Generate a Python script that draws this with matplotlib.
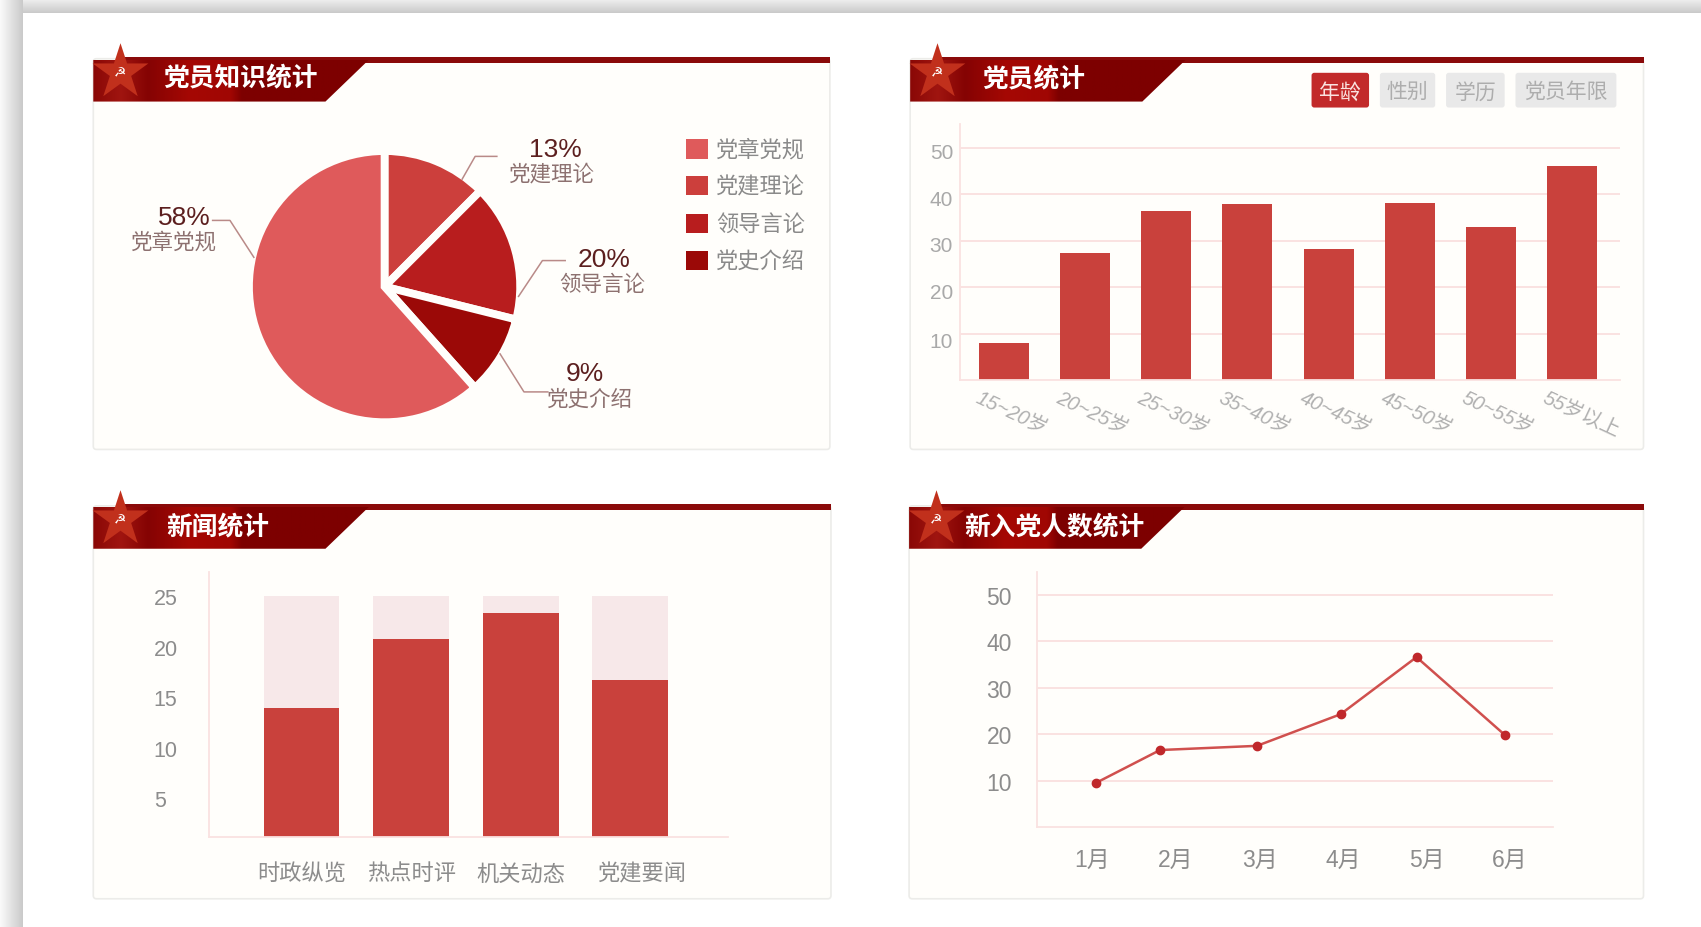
import numpy as np
import matplotlib
matplotlib.use("Agg")
import matplotlib.pyplot as plt
from matplotlib.patches import Polygon, Rectangle, FancyBboxPatch
from matplotlib.transforms import ScaledTranslation

plt.rcParams['font.family'] = ['Liberation Sans', 'Noto Sans CJK SC', 'DejaVu Sans']

# ---------- data ----------
pie_titles = ['党建理论', '领导言论', '党史介绍', '党章党规']
pie_shares = [12.5, 16.4, 9.5, 61.6]      # slice sizes as drawn in the picture
pie_labels = ['13%', '20%', '9%', '58%']  # percentages as printed
legend_names = ['党章党规', '党建理论', '领导言论', '党史介绍']

age_groups = ['15~20岁', '20~25岁', '25~30岁', '35~40岁', '40~45岁', '45~50岁', '50~55岁', '55岁以上']
age_counts = [8, 27.3, 36.4, 37.9, 28.3, 38.1, 33, 46]
age_ticks = [10, 20, 30, 40, 50]
age_tabs = ['年龄', '性别', '学历', '党员年限']

news_cats = ['时政纵览', '热点时评', '机关动态', '党建要闻']
news_vals = [13.4, 20.5, 23.2, 16.3]
news_total = [25, 25, 25, 25]
news_ticks = [5, 10, 15, 20, 25]

months = ['1月', '2月', '3月', '4月', '5月', '6月']
join_x = [0.04, 0.81, 1.97, 2.97, 3.88, 4.94]
join_vals = [9.5, 16.6, 17.5, 24.3, 36.6, 19.8]
join_ticks = [10, 20, 30, 40, 50]

titles = ['党员知识统计', '党员统计', '新闻统计', '新入党人数统计']

# ---------- style ----------
W, H = 1568.0, 855.0
PANEL = '#fffefb'
GRID = '#fae2e1'
AXIS = '#fae2e1'
BAR = '#c9413c'
PIE_COLORS = ['#cc3f3c', '#b81d1e', '#9b0907', '#df5a5b']
LEG_COLORS = ['#df5a5b', '#cc3f3c', '#b81d1e', '#9b0907']

fig = plt.figure(figsize=(17.01, 9.28), dpi=100, facecolor='white')
bg = fig.add_axes([0, 0, 1, 1], zorder=0)
bg.set_xlim(0, W)
bg.set_ylim(H, 0)
bg.axis('off')


def rect(l, t, r, b):
    return [l / W, 1 - b / H, (r - l) / W, (b - t) / H]


# gray frame on the left and the top
gx = np.linspace(0.98, 0.79, 64).reshape(1, -1)
bg.imshow(gx, extent=(0, 20.5, H, 12), cmap='gray', vmin=0, vmax=1, aspect='auto', zorder=1)
gy = np.linspace(0.95, 0.79, 64).reshape(-1, 1)
bg.imshow(gy, extent=(20.5, W, 13, 0), cmap='gray', vmin=0, vmax=1, aspect='auto', zorder=1)
bg.imshow(gx, extent=(0, 20.5, 13, 0), cmap='gray', vmin=0, vmax=1, aspect='auto', zorder=1)
bg.set_xlim(0, W)
bg.set_ylim(H, 0)

header_pos = [0, 0.10, 0.20, 0.35, 0.50, 0.54, 1]
header_stops = np.array([[0x8a, 0x08, 0x06], [0xa0, 0x15, 0x10], [0x85, 0x03, 0x03],
                         [0xa5, 0x08, 0x03], [0xa0, 0x06, 0x03], [0x7d, 0x00, 0x00],
                         [0x7d, 0x00, 0x00]]) / 255.0


def panel(l, t, r, b, title, title_x, title_y):
    bg.add_patch(FancyBboxPatch((l, t), r - l, b - t, boxstyle='round,pad=0,rounding_size=3',
                                fc=PANEL, ec='#ecece9', lw=1.2, zorder=2))
    top = t + 1
    bg.add_patch(Rectangle((l + 28, top - 3), r - l - 28, 6, fc='#8a0a0a', ec='none', zorder=3))
    poly = Polygon([(l, top), (l + 254, top), (l + 214, top + 38.5), (l, top + 38.5)], closed=True,
                   fc='none', ec='none', zorder=3)
    bg.add_patch(poly)
    xs = np.linspace(0, 1, 300)
    img = np.stack([np.interp(xs, header_pos, header_stops[:, i]) for i in range(3)], axis=-1)[None, :, :]
    im = bg.imshow(img, extent=(l, l + 254, top + 38.5, top), aspect='auto', zorder=3)
    im.set_clip_path(poly)
    bg.set_xlim(0, W)
    bg.set_ylim(H, 0)
    bg.scatter([l + 25], [t + 12], marker='*', s=1780, c='#c1301c', linewidths=0, zorder=4)
    bg.text(l + 25, t + 11.5, '☭', color='white', fontsize=10, ha='center', va='center',
            family='DejaVu Sans', zorder=5)
    bg.text(title_x, title_y, title, color='white', fontsize=18.5, fontweight='bold',
            ha='left', va='center', zorder=5)


panel(86, 55, 765, 415, titles[0], 150, 73)
panel(839, 55, 1515, 415, titles[1], 905, 74)
panel(86, 467, 766, 829, titles[2], 153, 486)
panel(838, 467, 1515, 829, titles[3], 889, 486)


def style_axes(ax, tick_color, size):
    ax.patch.set_alpha(0)
    for s in ('top', 'right'):
        ax.spines[s].set_visible(False)
    for s in ('left', 'bottom'):
        ax.spines[s].set_color(AXIS)
        ax.spines[s].set_linewidth(1.3)
    ax.tick_params(length=0, labelcolor=tick_color, labelsize=size)


# ---------- pie ----------
cx, cy, R = 354.5, 265, 125
pax = fig.add_axes(rect(cx - R, cy - R, cx + R, cy + R), zorder=2)
pax.pie(pie_shares, startangle=90, counterclock=False, colors=PIE_COLORS, radius=1,
        wedgeprops=dict(edgecolor=PANEL, linewidth=5.6))
pax.set_xlim(-1, 1)
pax.set_ylim(-1, 1)

# layer above the pie, so that the leader lines reach the slices
front = fig.add_axes([0, 0, 1, 1], zorder=3)
front.set_xlim(0, W)
front.set_ylim(H, 0)
front.axis('off')

leaders = [[(426, 166), (438, 145), (458, 145)],
           [(478, 274), (500, 241), (521, 241)],
           [(461, 327), (483, 362), (505, 362)],
           [(234, 238), (212, 204), (196, 204)]]
pct_pos = [(512, 138), (557, 240), (539, 345), (170, 201)]
name_pos = [(509, 161), (555, 263), (544, 369), (160, 224)]
for pts, p, n, pct, nm in zip(leaders, pct_pos, name_pos, pie_labels, pie_titles):
    xs, ys = zip(*pts)
    front.plot(xs, ys, color='#b98a88', lw=1.1)
    front.text(p[0], p[1], pct, color='#5c1f1f', fontsize=19, ha='center', va='center')
    front.text(n[0], n[1], nm, color='#8d7170', fontsize=15.5, ha='center', va='center')

for y, name, col in zip([138, 172, 207, 241], legend_names, LEG_COLORS):
    bg.add_patch(Rectangle((632, y - 9), 21, 18, fc=col, ec='none', zorder=5))
    bg.text(660, y + 1, name, color='#8a8a8a', fontsize=16, ha='left', va='center', zorder=5)

# ---------- tabs ----------
tab_spans = [(1209, 1262), (1272, 1323), (1333, 1387), (1397, 1490)]
for i, (name, (a, b)) in enumerate(zip(age_tabs, tab_spans)):
    bg.add_patch(FancyBboxPatch((a, 68), b - a, 32, boxstyle='round,pad=0,rounding_size=2.5',
                                fc='#c22a2a' if i == 0 else '#e9e9e9', ec='none', zorder=5))
    bg.text((a + b) / 2, 85, name, color='#fbe3e0' if i == 0 else '#adadad', fontsize=15,
            ha='center', va='center', zorder=6)

# ---------- age bars ----------
ax = fig.add_axes(rect(885, 115, 1493, 351), zorder=2)
style_axes(ax, '#a9a9a9', 15)
ax.set_ylim(0, 236 / 4.28)
step = 74.8
ax.set_xlim(-40.5 / step, 567.5 / step)
ax.hlines(age_ticks, *ax.get_xlim(), color=GRID, lw=1.4, zorder=1)
ax.bar(range(len(age_counts)), age_counts, width=46 / step, color=BAR, zorder=2)
ax.set_xticks(range(len(age_groups)), age_groups)
ax.set_yticks([t - (1.2 if t == 10 else 0.7) for t in age_ticks], [str(t) for t in age_ticks])
ax.tick_params(axis='y', pad=5)
ax.tick_params(axis='x', pad=12)
shift = ScaledTranslation(-0.28, 0, fig.dpi_scale_trans)
for lab in ax.get_xticklabels():
    lab.set(rotation=-25, ha='left', va='center', rotation_mode='anchor', fontsize=14.5,
            style='italic', color='#b0b0b0')
    lab.set_transform(lab.get_transform() + shift)

# ---------- news stacked bars ----------
ax = fig.add_axes(rect(193, 528, 671, 772), zorder=2)
style_axes(ax, '#8c8c8c', 15.5)
ax.set_ylim(0, 244 / 8.88)
ax.set_xlim(-85 / 101, 393 / 101)
x = np.arange(len(news_cats))
ax.bar(x, news_total, width=0.69, color='#f7e8e9', zorder=1)
ax.bar(x, news_vals, width=0.69, color=BAR, zorder=2)
ax.set_xticks(x, news_cats)
ax.set_yticks([t - (25 - t) * 0.05 for t in news_ticks], [str(t) for t in news_ticks])
ax.tick_params(axis='y', pad=40)
ax.tick_params(axis='x', pad=19, labelsize=16)
for lab in ax.get_yticklabels():
    lab.set_ha('left')
last = ax.get_xticklabels()[-1]
last.set_transform(last.get_transform() + ScaledTranslation(0.12, 0, fig.dpi_scale_trans))

# ---------- join line ----------
ax = fig.add_axes(rect(956, 528, 1432, 763), zorder=2)
style_axes(ax, '#8c8c8c', 16.5)
ax.set_ylim(0, 235 / 4.28)
ax.set_xlim(-51 / 77, 425 / 77)
ax.hlines(join_ticks, *ax.get_xlim(), color=GRID, lw=1.4, zorder=1)
ax.plot(join_x, join_vals, color='#d0504e', lw=1.8, marker='o', ms=6,
        mfc='#c0282b', mec='#c0282b', zorder=3)
ax.set_xticks(range(len(months)), months)
ax.set_yticks(join_ticks, [str(t) for t in join_ticks])
ax.tick_params(axis='y', pad=18)
ax.tick_params(axis='x', pad=15, labelsize=16.5)

fig.savefig('out.png', dpi=100, facecolor='white')
